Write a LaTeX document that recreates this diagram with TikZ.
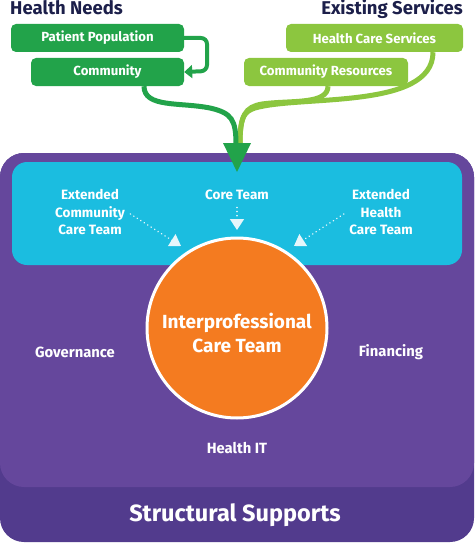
\documentclass[tikz,border=0pt]{standalone}
\usepackage{fontspec}
\setmainfont{Fira Sans}
\usetikzlibrary{arrows.meta}
\definecolor{navy}{HTML}{1C1F4A}
\definecolor{dgreen}{HTML}{22A34A}
\definecolor{lgreen}{HTML}{8CC63F}
\definecolor{purp}{HTML}{65479C}
\definecolor{dpurp}{HTML}{523B8D}
\definecolor{cyanb}{HTML}{1BBDE0}
\definecolor{orng}{HTML}{F47B20}
\definecolor{tipw}{HTML}{E6F6FB}
\begin{document}
\begin{tikzpicture}[x=1pt,y=-1pt,
  title/.style={font=\fontsize{18.5}{20}\selectfont\bfseries, text=navy, inner sep=0pt},
  gbox/.style={rounded corners=5pt, minimum height=28pt, text=white, font=\fontsize{13.2}{14}\selectfont\bfseries, inner sep=0pt},
  wlab/.style={text=white, font=\fontsize{13.5}{17.5}\selectfont\bfseries, align=center},
  slab/.style={text=white, font=\fontsize{14.8}{17}\selectfont\bfseries},
  dotarr/.style={tipw, line width=1.6pt, dash pattern=on 0.1pt off 4pt, line cap=round, -{Triangle[width=14pt,length=11pt,fill=tipw,line cap=butt]}},
  flow/.style={line width=5pt, line cap=butt}
]
\useasboundingbox (0,0) rectangle (474,543);
% structural supports
\fill[dpurp, rounded corners=24pt] (0,153) rectangle (474,542);
\fill[purp, rounded corners=24pt] (0,153) rectangle (474,487);
\fill[cyanb, rounded corners=15pt] (12,162) rectangle (462,265);
% titles
\node[title, anchor=base west] (hn) at (10,14.5) {Health Needs};
\node[title, anchor=base east] (es) at (463,14.5) {Existing Services};
% green boxes
\node[gbox, fill=dgreen, minimum width=173pt] (pp) at (97.5,38) {Patient Population};
\node[gbox, fill=dgreen, minimum width=153pt] (cm) at (107.5,72) {Community};
\node[gbox, fill=lgreen, minimum width=177pt] (hcs) at (374.5,38) {Health Care Services};
\node[gbox, fill=lgreen, minimum width=164pt] (cr) at (326,72) {Community Resources};
% loop arrow
\draw[dgreen, line width=4pt, rounded corners=6pt, -{Triangle[width=13pt,length=8pt]}]
  (pp.east) -- (207,38) -- (207,71) -- (cm.east);
% flows
\coordinate (tip) at (237,172);
\draw[lgreen, flow] (hcs.south -| 433,52) .. controls (433,110) and (300,95) .. (255,108) .. controls (243,112) and (240,118) .. (240,145);
\draw[lgreen, flow] (cr.south -| 328,86) .. controls (328,105) and (290,100) .. (262,104) .. controls (245,107) and (240,115) .. (240,145);
\draw[dgreen, flow] (cm.south -| 144,86) .. controls (144,108) and (180,102) .. (210,108) .. controls (232,113) and (236,120) .. (236,145);
\fill[dgreen] (223,143) -- (251,143) -- (tip) -- cycle;
% cyan labels
\node[wlab] (ecc) at (90,212) {Extended\\Community\\Care Team};
\node[wlab] (ct) at (237,195) {Core Team};
\node[wlab] (ehc) at (381,212) {Extended\\Health\\Care Team};
% circle
\node[circle, fill=orng, draw=white, line width=3pt, minimum size=180pt, inner sep=0pt] (ipc) at (237,328) {};
\node[text=white, font=\fontsize{19}{24}\selectfont\bfseries, align=center] (ipt) at (237,333) {Interprofessional\\Care Team};
% dotted arrows
\draw[dotarr] (ecc.east |- 0,214) ++(2,0) -- (181,246);
\draw[dotarr] (ct.south) ++(0,4) -- (237,230);
\draw[dotarr] (ehc.west |- 0,214) ++(-2,0) -- (294,246);
% supports labels
\node[slab] (gov) at (75,352) {Governance};
\node[slab] (fin) at (391,352) {Financing};
\node[slab] (hit) at (237,448) {Health IT};
\node[text=white, font=\fontsize{23.5}{26}\selectfont\bfseries] (ss) at (235,515) {Structural Supports};
\end{tikzpicture}
\end{document}
